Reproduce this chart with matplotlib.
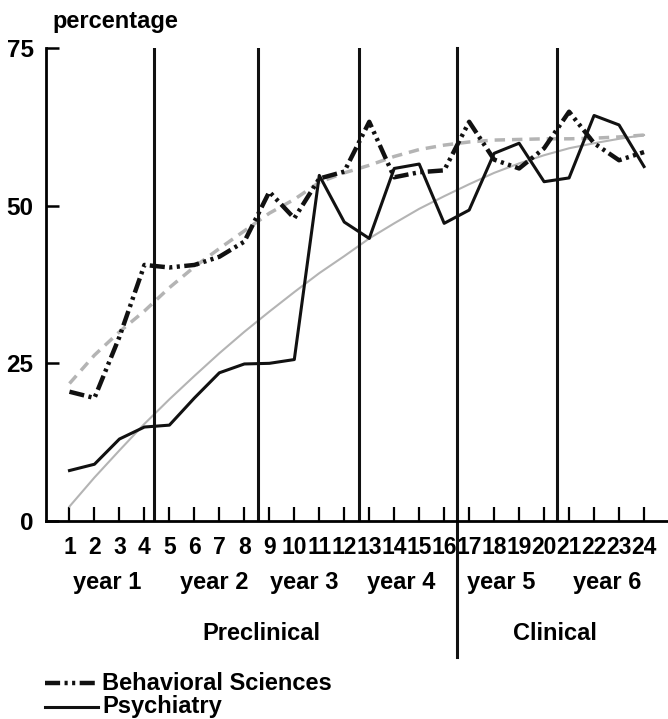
import matplotlib
matplotlib.use("Agg")
import matplotlib.pyplot as plt
from matplotlib.lines import Line2D

plt.rcParams['font.family'] = ['Liberation Sans', 'DejaVu Sans']
plt.rcParams['font.weight'] = 'bold'

# data
blocks = list(range(1, 25))
behavioral = [20.5, 19.5, 29.2, 40.6, 40.2, 40.6, 41.9, 44.3, 52.2, 48.0, 54.3, 55.4,
              63.3, 54.5, 55.3, 55.6, 63.3, 57.3, 55.9, 59.1, 64.9, 59.9, 57.2, 58.5]
psychiatry = [8.0, 9.0, 13.0, 14.9, 15.2, 19.5, 23.5, 24.9, 25.0, 25.6, 54.8, 47.4,
              44.8, 55.9, 56.6, 47.2, 49.3, 58.3, 59.9, 53.8, 54.4, 64.3, 62.8, 56.2]
behavioral_trend = [21.8, 26.3, 30.0, 33.3, 37.0, 40.3, 43.2, 46.0, 48.8, 51.0, 53.7, 55.2,
                    56.4, 57.8, 58.9, 59.6, 60.1, 60.4, 60.5, 60.6, 60.6, 60.7, 60.9, 61.2]
psychiatry_trend = [2.3, 6.9, 11.2, 15.4, 19.3, 23.0, 26.6, 30.0, 33.2, 36.3, 39.3, 42.0,
                    44.8, 47.2, 49.5, 51.5, 53.4, 55.2, 56.7, 58.0, 59.1, 59.9, 60.6, 61.2]
year_dividers = [4.4, 8.55, 12.6, 16.5, 20.5]
phase_divider = 16.5
years = ['year 1', 'year 2', 'year 3', 'year 4', 'year 5', 'year 6']
phases = ['Preclinical', 'Clinical']

W, H = 668, 719
fig = plt.figure(figsize=(W / 100, H / 100), dpi=100)
ax = fig.add_axes([46 / W, 198 / H, 622 / W, 473 / H])

bs_style = (0, (3.4, 1.0, 0.7, 1.0, 0.7, 1.0))

ax.plot(blocks, behavioral_trend, color='#b4b4b4', lw=2.5, ls=(0, (3, 2)))
ax.plot(blocks, psychiatry_trend, color='#b4b4b4', lw=1.5)
ax.plot(blocks, psychiatry, color='#111111', lw=2.2)
ax.plot(blocks, behavioral, color='#111111', lw=3.2, ls=bs_style)

for xd in year_dividers:
    if xd == phase_divider:
        ax.axvline(xd, ymin=-0.2875, ymax=1, color='#111111', lw=2.2, clip_on=False)
    else:
        ax.axvline(xd, ymin=0, ymax=1, color='#111111', lw=2.2)

ax.set_xlim(0.06, 24.96)
ax.set_ylim(0, 75)
ax.set_xticks(blocks)
ax.set_xticklabels([str(b) for b in blocks])
ax.set_yticks([0, 25, 50, 75])
ax.tick_params(axis='x', direction='in', length=10, width=1.6, pad=11, labelsize=16.5)
ax.tick_params(axis='y', direction='in', length=9, width=1.8, pad=9, labelsize=17.5)
for s in ['top', 'right']:
    ax.spines[s].set_visible(False)
ax.spines['left'].set_linewidth(2.0)
ax.spines['bottom'].set_linewidth(2.0)

fig.text(52 / W, 1 - 28 / H, 'percentage', fontsize=17, ha='left', va='baseline')

year_x = [107, 214, 304, 401, 501, 607]
for lab, px in zip(years, year_x):
    fig.text(px / W, 1 - 582 / H, lab, fontsize=17, ha='center', va='center')
for lab, px in zip(phases, [261, 555]):
    fig.text(px / W, 1 - 633 / H, lab, fontsize=17, ha='center', va='center')

# legend
fig.add_artist(Line2D([45 / W, 95 / W], [1 - 683 / H] * 2, color='#111111', lw=3.2, ls=bs_style))
fig.text(102 / W, 1 - 683 / H, 'Behavioral Sciences', fontsize=17, ha='left', va='center')
fig.add_artist(Line2D([45 / W, 98 / W], [1 - 707 / H] * 2, color='#111111', lw=2.2))
fig.text(102 / W, 1 - 707 / H, 'Psychiatry', fontsize=17, ha='left', va='center')

fig.savefig('out.png', dpi=100)
